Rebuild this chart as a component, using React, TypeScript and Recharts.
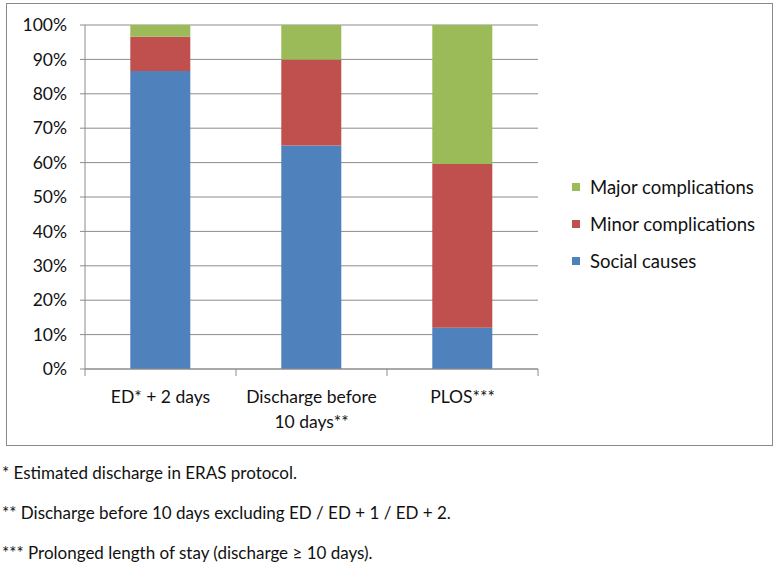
import React from "react";
import { BarChart, Bar, XAxis, YAxis, CartesianGrid } from "recharts";

const categories = ["ED* + 2 days", "Discharge before\n10 days**", "PLOS***"];
const socialCauses = [86.6, 65, 12];
const minorComplications = [10, 25, 47.6];
const majorComplications = [3.4, 10, 40.4];
const yTicks = [0, 10, 20, 30, 40, 50, 60, 70, 80, 90, 100];
const footnotes = [
  "* Estimated discharge in ERAS protocol.",
  "** Discharge before 10 days excluding ED / ED + 1 / ED + 2.",
  "*** Prolonged length of stay (discharge \u2265 10 days).",
];

const data = categories.map((c, i) => ({
  name: c,
  social: socialCauses[i],
  minor: minorComplications[i],
  major: majorComplications[i],
}));

const FONT = "Lato, 'Open Sans', sans-serif";
const GRID = "#8c8c8c";

const legendItems = [
  { label: "Major complications", color: "#9BBB59" },
  { label: "Minor complications", color: "#C0504D" },
  { label: "Social causes", color: "#4F81BD" },
];

const XTick = (props: any) => {
  const { x, y, payload, index, visibleTicksCount } = props;
  const off = payload && payload.offset ? payload.offset : 75.5;
  const lines = String(payload.value).split("\n");
  const last = index === (visibleTicksCount ?? categories.length) - 1;
  return (
    <g>
      <line x1={x - off} x2={x - off} y1={y - 8} y2={y - 1} stroke={GRID} />
      {last && <line x1={x + off} x2={x + off} y1={y - 8} y2={y - 1} stroke={GRID} />}
      {lines.map((l, i) => (
        <text key={i} x={x} y={y + 26 + i * 25} textAnchor="middle" fontSize={17.5} fill="#111" fontFamily={FONT}>
          {l}
        </text>
      ))}
    </g>
  );
};

export default function App() {
  return (
    <div style={{ position: "fixed", left: 0, top: 0, width: 782, height: 577, background: "#fff" }}>
      <div
        style={{
          position: "absolute",
          left: 6,
          top: 3,
          width: 767,
          height: 443,
          border: "1px solid #8a8a8a",
          boxSizing: "border-box",
        }}
      />
      <div style={{ position: "absolute", left: 0, top: 0 }}>
        <BarChart
          width={782}
          height={450}
          data={data}
          margin={{ top: 25, right: 244, bottom: 21, left: 0 }}
          barCategoryGap="30%"
        >
          <CartesianGrid vertical={false} stroke={GRID} strokeWidth={1} />
          <XAxis
            dataKey="name"
            tick={<XTick />}
            tickLine={false}
            axisLine={{ stroke: GRID }}
            height={60}
            interval={0}
          />
          <YAxis
            domain={[0, 100]}
            ticks={yTicks}
            tickFormatter={(v: number) => `${v}%`}
            width={85}
            tickSize={5}
            tickMargin={13}
            axisLine={{ stroke: GRID }}
            tickLine={{ stroke: GRID }}
            tick={{ fontSize: 17.5, fill: "#111", fontFamily: FONT }}
            interval={0}
          />
          <Bar dataKey="social" stackId="a" fill="#4F81BD" isAnimationActive={false} />
          <Bar dataKey="minor" stackId="a" fill="#C0504D" isAnimationActive={false} />
          <Bar dataKey="major" stackId="a" fill="#9BBB59" isAnimationActive={false} />
        </BarChart>
      </div>
      <div style={{ position: "absolute", left: 572, top: 168, fontFamily: FONT, fontSize: 18.5, color: "#111" }}>
        {legendItems.map((it) => (
          <div key={it.label} style={{ display: "flex", alignItems: "center", height: 37 }}>
            <span style={{ width: 8, height: 8, background: it.color, display: "inline-block", marginRight: 10 }} />
            <span>{it.label}</span>
          </div>
        ))}
      </div>
      {footnotes.map((f, i) => (
        <div
          key={i}
          style={{
            position: "absolute",
            left: 2,
            top: 463 + i * 40,
            fontFamily: FONT,
            fontSize: 17,
            color: "#111",
            whiteSpace: "nowrap",
            lineHeight: "20px",
          }}
        >
          {f}
        </div>
      ))}
    </div>
  );
}
